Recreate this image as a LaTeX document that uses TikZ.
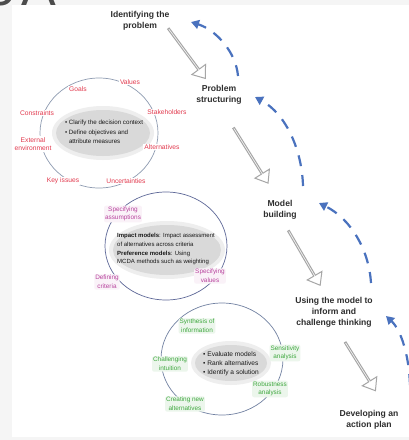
\documentclass[tikz,border=0pt]{standalone}
\usepackage{fontspec}
\setmainfont{Liberation Sans}
\usetikzlibrary{shapes.geometric,shapes.arrows,arrows.meta}
\definecolor{stagec}{HTML}{2E2E2E}
\definecolor{redc}{HTML}{E23A4E}
\definecolor{magc}{HTML}{B8449E}
\definecolor{greenc}{HTML}{3FA83F}
\definecolor{bluec}{HTML}{4A72BE}
\definecolor{ringa}{HTML}{8F9CB2}
\definecolor{ringb}{HTML}{5E6898}
\definecolor{ringc}{HTML}{7282A2}
\definecolor{coref}{HTML}{D9D9D9}
\begin{document}
\begin{tikzpicture}[x=1pt,y=-1pt,
  stage/.style={font=\bfseries\fontsize{8.6}{11}\selectfont, text=stagec, align=center, inner sep=0pt},
  hollow/.style={single arrow, draw=gray!70, fill=white, line width=1pt, minimum width=17pt,
    single arrow head extend=4pt, single arrow tip angle=75, inner sep=0pt},
  ring/.style={ellipse, line width=0.7pt, inner sep=0pt},
  core/.style={ellipse, fill=coref, inner sep=0pt},
  corehalo/.style={ellipse, fill=coref!45, inner sep=0pt},
  coretext/.style={font=\fontsize{6.2}{9.3}\selectfont, text=black!90, align=left, inner sep=0pt},
  redlab/.style={font=\fontsize{6.7}{8.6}\selectfont, text=redc, align=center, fill=white, inner sep=1pt},
  maglab/.style={font=\fontsize{6.4}{8.6}\selectfont, text=magc, align=center, fill=magc!7, rounded corners=2pt, inner sep=1pt},
  greenlab/.style={font=\fontsize{6.4}{8.6}\selectfont, text=greenc, align=center, fill=greenc!10, rounded corners=2pt, inner sep=1pt},
  cyclearrow/.style={bluec, line width=2.2pt, dash pattern=on 11pt off 9pt, -{Triangle[length=8pt,width=9pt]}}
]
\useasboundingbox (0,0) rectangle (409,440);
\clip (0,0) rectangle (409,440);
% frame
\fill[gray!8] (0,0) rectangle (409,440);
\fill[white] (12,5) rectangle (409,437);
\node[anchor=base west, font=\fontsize{52}{52}\selectfont, text=black!70, inner sep=0pt] (figlabel) at (-14,5) {5\kern6ptA};

% rings
\node[ring, draw=ringa, minimum width=118pt, minimum height=110pt] (ring1) at (99,133) {};
\node[ring, draw=ringb, minimum width=122pt, minimum height=108pt] (ring2) at (166,246) {};
\node[ring, draw=ringc, minimum width=122pt, minimum height=112pt] (ring3) at (222,359) {};

% cores
\node[corehalo, minimum width=102pt, minimum height=54pt] (halo1) at (103,133) {};
\node[core, minimum width=94pt, minimum height=46pt] (core1) at (103,133) {};
\node[coretext] (t1) at (104,132) {• Clarify the decision context\\• Define objectives and\\\hspace*{4pt}attribute measures};

\node[corehalo, minimum width=116pt, minimum height=58pt] (halo2) at (167,250) {};
\node[core, minimum width=108pt, minimum height=50pt] (core2) at (167,250) {};
\node[coretext, font=\fontsize{6}{8.9}\selectfont] (t2) at (166,249) {\textbf{Impact models}: Impact assessment\\of alternatives across criteria\\\textbf{Preference models}: Using\\MCDA methods such as weighting};

\node[corehalo, minimum width=80pt, minimum height=44pt] (halo3) at (231,363) {};
\node[core, minimum width=72pt, minimum height=36pt] (core3) at (231,363) {};
\node[coretext, font=\fontsize{6.6}{9.2}\selectfont] (t3) at (231,364) {• Evaluate models\\• Rank alternatives\\• Identify a solution};

% red labels
\node[redlab] (goals) at (78,89) {Goals};
\node[redlab] (values) at (130,82) {Values};
\node[redlab] (stake) at (167,112) {Stakeholders};
\node[redlab] (alts) at (162,147) {Alternatives};
\node[redlab] (unc) at (126,181) {Uncertainties};
\node[redlab] (keyi) at (63,181) {Key issues};
\node[redlab] (ext) at (33,144) {External\\environment};
\node[redlab] (cons) at (37,113) {Constraints};

% magenta labels
\node[maglab] (assum) at (123,214) {Specifying\\assumptions};
\node[maglab] (crit) at (107,282) {Defining\\criteria};
\node[maglab] (vals) at (210,276) {Specifying\\values};

% green labels
\node[greenlab] (synth) at (197,326) {Synthesis of\\information};
\node[greenlab] (chall) at (170,364) {Challenging\\intuition};
\node[greenlab] (sens) at (285,353) {Sensitivity\\analysis};
\node[greenlab] (robu) at (270,389) {Robustness\\analysis};
\node[greenlab] (creat) at (185,404) {Creating new\\alternatives};

% stages
\node[stage] (s1) at (140,21) {Identifying the\\problem};
\node[stage] (s2) at (219,95) {Problem\\structuring};
\node[stage] (s3) at (280,210) {Model\\building};
\node[stage] (s4) at (334,312) {Using the model to\\inform and\\challenge thinking};
\node[stage] (s5) at (369,420) {Developing an\\action plan};

% hollow arrows between stages
\coordinate (h1a) at (168,28);  \coordinate (h1b) at (205,78);
\coordinate (h2a) at (233,127); \coordinate (h2b) at (268,183);
\coordinate (h3a) at (288,230); \coordinate (h3b) at (320,285);
\coordinate (h4a) at (345,342); \coordinate (h4b) at (375,390);
\path (h1a) -- (h1b) node[midway, sloped, hollow, minimum height=62pt] (ha1) {};
\path (h2a) -- (h2b) node[midway, sloped, hollow, minimum height=65pt] (ha2) {};
\path (h3a) -- (h3b) node[midway, sloped, hollow, minimum height=63pt] (ha3) {};
\path (h4a) -- (h4b) node[midway, sloped, hollow, minimum height=57pt] (ha4) {};

% dashed feedback arcs
\coordinate (ba) at (238,76);  \coordinate (bt) at (191,22);
\coordinate (bb) at (303,186); \coordinate (bu) at (255,97);
\coordinate (bc) at (371,283); \coordinate (bv) at (319,203);
\coordinate (bd) at (410,385); \coordinate (bw) at (386,316);
\draw[cyclearrow] (ba) .. controls (236,52) and (216,30) .. (bt);
\draw[cyclearrow] (bb) .. controls (302,150) and (286,114) .. (bu);
\draw[cyclearrow] (bc) .. controls (369,250) and (351,219) .. (bv);
\draw[cyclearrow] (bd) .. controls (409,355) and (401,330) .. (bw);
\end{tikzpicture}
\end{document}
